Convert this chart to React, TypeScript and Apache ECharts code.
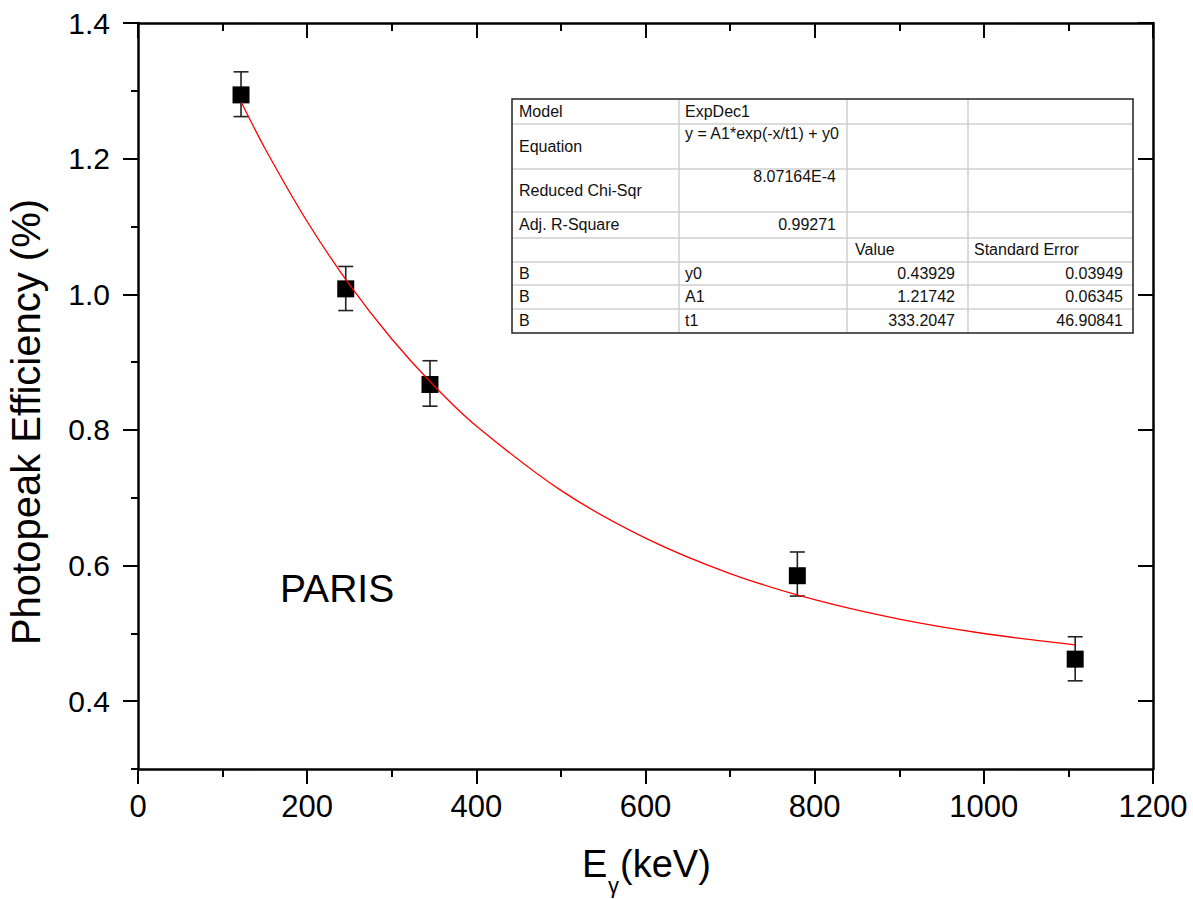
import React, { useEffect, useRef } from "react";
import * as echarts from "echarts";

// ---- data ----
const energies = [121.8, 245.6, 345.2, 779.5, 1108];
const efficiencies = [1.294, 1.008, 0.867, 0.585, 0.462];
const errLow = [1.262, 0.976, 0.835, 0.555, 0.430];
const errHigh = [1.328, 1.041, 0.902, 0.620, 0.495];

// fit curve
const fitX = [122, 150, 200, 250, 300, 350, 400, 500, 600, 700, 800, 900, 1000, 1108];
const fitY = [1.2835, 1.2154, 1.1073, 1.0142, 0.9341, 0.8652, 0.8058, 0.7108, 0.6404, 0.5882, 0.5496, 0.521, 0.4998, 0.4831];

const xTicks = [0, 200, 400, 600, 800, 1000, 1200];
const yTickValues = [0.4, 0.6, 0.8, 1.0, 1.2, 1.4];
const yMinorTickValues = [0.3, 0.5, 0.7, 0.9, 1.1, 1.3];

// fit table
const tableLabels = ["Model", "Equation", "Reduced Chi-Sqr", "Adj. R-Square", "", "B", "B", "B"];
const tableCol2 = ["ExpDec1", "y = A1*exp(-x/t1) + y0", "8.07164E-4", "0.99271", "", "y0", "A1", "t1"];
const tableCol3 = ["", "", "", "", "Value", "0.43929", "1.21742", "333.2047"];
const tableCol4 = ["", "", "", "", "Standard Error", "0.03949", "0.06345", "46.90841"];

const FONT = "Arial, 'Liberation Sans', Helvetica, sans-serif";

export default function App() {
  const ref = useRef<HTMLDivElement>(null);

  useEffect(() => {
    if (!ref.current) return;
    const chart = echarts.init(ref.current, undefined, { renderer: "svg" });

    const scatterData = energies.map((x, i) => [x, efficiencies[i]]);
    const errData = energies.map((x, i) => [x, errLow[i], errHigh[i]]);
    const fitData = fitX.map((x, i) => [x, fitY[i]]);

    // table layout
    const colX = [512, 679, 847, 968, 1133];
    const rowY = [99, 124, 169, 212, 238, 262, 285, 309, 333];
    const tblEls: any[] = [];
    tblEls.push({
      type: "rect",
      shape: { x: colX[0], y: rowY[0], width: colX[4] - colX[0], height: rowY[8] - rowY[0] },
      style: { fill: "#fff", stroke: "none" },
      z: 10,
    });
    for (let i = 1; i < rowY.length - 1; i++) {
      tblEls.push({
        type: "line",
        shape: { x1: colX[0], y1: rowY[i], x2: colX[4], y2: rowY[i] },
        style: { stroke: "#cfcfcf", lineWidth: 1.5 },
        z: 11,
      });
    }
    for (let j = 1; j < colX.length - 1; j++) {
      tblEls.push({
        type: "line",
        shape: { x1: colX[j], y1: rowY[0], x2: colX[j], y2: rowY[8] },
        style: { stroke: "#cfcfcf", lineWidth: 1.5 },
        z: 11,
      });
    }
    tblEls.push({
      type: "rect",
      shape: { x: colX[0], y: rowY[0], width: colX[4] - colX[0], height: rowY[8] - rowY[0] },
      style: { fill: "none", stroke: "#222", lineWidth: 1.5 },
      z: 12,
    });
    const txt = (text: string, x: number, y: number, align: string) => ({
      type: "text",
      x,
      y,
      z: 13,
      style: {
        text,
        fontSize: 16,
        fontFamily: FONT,
        fill: "#111",
        align,
        verticalAlign: "middle",
      },
    });
    for (let r = 0; r < 8; r++) {
      const mid = (rowY[r] + rowY[r + 1]) / 2 - 0.5;
      if (tableLabels[r]) tblEls.push(txt(tableLabels[r], colX[0] + 7, mid, "left"));
      if (tableCol2[r]) {
        if (r === 2 || r === 3) {
          const yy = r === 2 ? rowY[r] + 7 : mid;
          tblEls.push(txt(tableCol2[r], colX[2] - 11, yy, "right"));
        } else {
          const yy = r === 1 ? rowY[r] + 9 : mid;
          tblEls.push(txt(tableCol2[r], colX[1] + 6, yy, "left"));
        }
      }
      if (tableCol3[r]) {
        if (r === 4) tblEls.push(txt(tableCol3[r], colX[2] + 8, mid, "left"));
        else tblEls.push(txt(tableCol3[r], colX[3] - 13, mid, "right"));
      }
      if (tableCol4[r]) {
        if (r === 4) tblEls.push(txt(tableCol4[r], colX[3] + 6, mid, "left"));
        else tblEls.push(txt(tableCol4[r], colX[4] - 10, mid, "right"));
      }
    }

    const axisLineStyle = { color: "#000", width: 2.5 };
    const tickStyle = { color: "#000", width: 2 };

    chart.setOption({
      animation: false,
      backgroundColor: "#fff",
      grid: { left: 138, top: 23, right: 40, bottom: 130, containLabel: false },
      xAxis: [
        {
          type: "value",
          position: "bottom",
          min: xTicks[0],
          max: xTicks[xTicks.length - 1],
          interval: 200,
          axisLine: { show: true, lineStyle: axisLineStyle },
          axisTick: { show: true, inside: false, length: 15, lineStyle: tickStyle },
          minorTick: { show: true, splitNumber: 2, length: 8, lineStyle: tickStyle },
          axisLabel: {
            show: true,
            fontSize: 31,
            fontFamily: FONT,
            color: "#000",
            margin: 22,
            formatter: (v: number) => String(v),
          },
          splitLine: { show: false },
          minorSplitLine: { show: false },
        },
        {
          type: "value",
          position: "top",
          min: xTicks[0],
          max: xTicks[xTicks.length - 1],
          interval: 200,
          axisLine: { show: true, onZero: false, lineStyle: axisLineStyle },
          axisTick: { show: true, inside: true, length: 15, lineStyle: tickStyle },
          minorTick: { show: true, splitNumber: 2, length: 8, lineStyle: tickStyle },
          axisLabel: { show: false },
          splitLine: { show: false },
        },
      ],
      yAxis: [
        {
          type: "value",
          position: "left",
          min: 0.3,
          max: 1.4,
          axisLine: { show: true, onZero: false, lineStyle: axisLineStyle },
          axisTick: { show: true, inside: false, length: 15, lineStyle: tickStyle, customValues: yTickValues },
          axisLabel: {
            show: true,
            fontSize: 30,
            fontFamily: FONT,
            color: "#000",
            margin: 28,
            customValues: yTickValues,
            formatter: (v: number) => v.toFixed(1),
          },
          splitLine: { show: false },
        },
        {
          type: "value",
          position: "left",
          min: 0.3,
          max: 1.4,
          axisLine: { show: false },
          axisTick: { show: true, inside: false, length: 7, lineStyle: tickStyle, customValues: yMinorTickValues },
          axisLabel: { show: false },
          splitLine: { show: false },
        },
        {
          type: "value",
          position: "right",
          min: 0.3,
          max: 1.4,
          axisLine: { show: true, onZero: false, lineStyle: axisLineStyle },
          axisTick: { show: true, inside: true, length: 15, lineStyle: tickStyle, customValues: yTickValues },
          axisLabel: { show: false },
          splitLine: { show: false },
        },
        {
          type: "value",
          position: "right",
          min: 0.3,
          max: 1.4,
          axisLine: { show: false },
          axisTick: { show: true, inside: true, length: 7, lineStyle: tickStyle, customValues: yMinorTickValues },
          axisLabel: { show: false },
          splitLine: { show: false },
        },
      ],
      series: [
        {
          type: "custom",
          name: "errors",
          xAxisIndex: 0,
          yAxisIndex: 0,
          data: errData,
          z: 2,
          renderItem: (params: any, api: any) => {
            const x = api.value(0);
            const lo = api.coord([x, api.value(1)]);
            const hi = api.coord([x, api.value(2)]);
            const hw = 7.5;
            const style = { stroke: "#222", lineWidth: 1.6, fill: "none" };
            return {
              type: "group",
              children: [
                { type: "line", shape: { x1: lo[0], y1: lo[1], x2: hi[0], y2: hi[1] }, style },
                { type: "line", shape: { x1: hi[0] - hw, y1: hi[1], x2: hi[0] + hw, y2: hi[1] }, style },
                { type: "line", shape: { x1: lo[0] - hw, y1: lo[1], x2: lo[0] + hw, y2: lo[1] }, style },
              ],
            };
          },
        },
        {
          type: "scatter",
          name: "data",
          xAxisIndex: 0,
          yAxisIndex: 0,
          data: scatterData,
          symbol: "rect",
          symbolSize: 17,
          itemStyle: { color: "#000", opacity: 1 },
          z: 3,
        },
        {
          type: "line",
          name: "fit",
          xAxisIndex: 0,
          yAxisIndex: 0,
          data: fitData,
          smooth: 0.3,
          showSymbol: false,
          symbol: "none",
          lineStyle: { color: "#ff0000", width: 1.3 },
          z: 4,
        },
      ],
      graphic: [
        {
          type: "text",
          x: 26,
          y: 422,
          rotation: Math.PI / 2,
          style: {
            text: "Photopeak Efficiency (%)",
            fontSize: 40,
            fontFamily: FONT,
            fill: "#000",
            align: "center",
            verticalAlign: "middle",
          },
        },
        {
          type: "text",
          x: 582,
          y: 864,
          style: { text: "E", fontSize: 38, fontFamily: FONT, fill: "#000", align: "left", verticalAlign: "middle" },
        },
        {
          type: "text",
          x: 608,
          y: 885,
          style: { text: "γ", fontSize: 22, fontFamily: FONT, fill: "#000", align: "left", verticalAlign: "middle" },
        },
        {
          type: "text",
          x: 620,
          y: 864,
          style: { text: "(keV)", fontSize: 38, fontFamily: FONT, fill: "#000", align: "left", verticalAlign: "middle" },
        },
        {
          type: "text",
          x: 280,
          y: 588,
          style: { text: "PARIS", fontSize: 39, fontFamily: FONT, fill: "#000", align: "left", verticalAlign: "middle" },
        },
        ...tblEls,
      ],
    });

    return () => chart.dispose();
  }, []);

  return (
    <div
      ref={ref}
      style={{ position: "fixed", left: 0, top: 0, width: 1193, height: 899, background: "#fff" }}
    />
  );
}
